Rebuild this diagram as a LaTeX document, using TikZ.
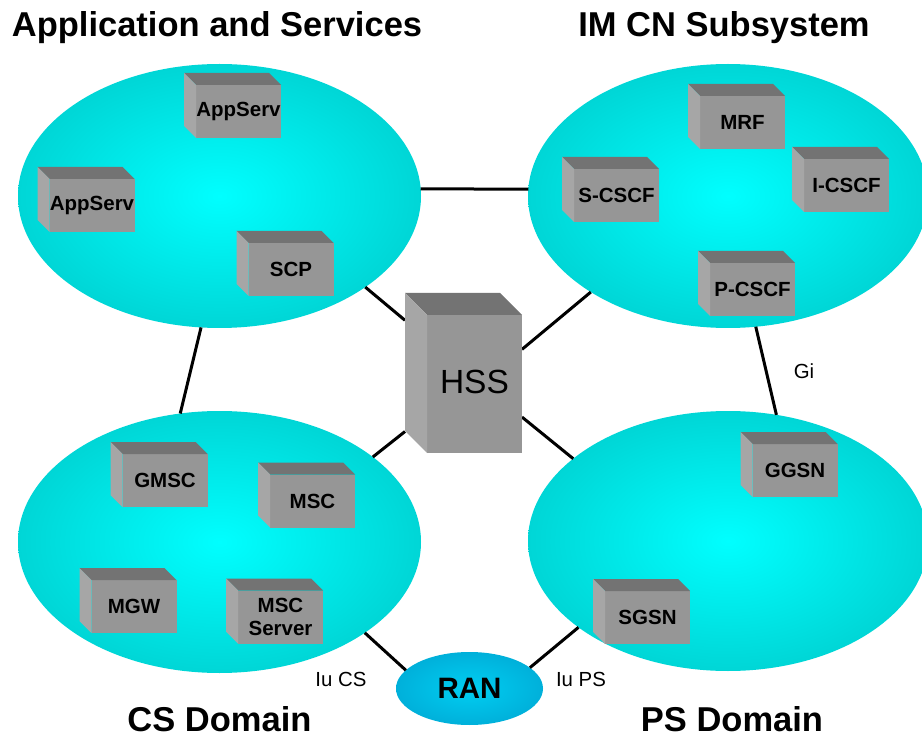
\documentclass[tikz,border=0pt]{standalone}
\usepackage{fontspec}
\setmainfont{Liberation Sans}
\usetikzlibrary{shapes.geometric}
\definecolor{frontc}{RGB}{150,150,150}
\definecolor{topc}{RGB}{115,115,115}
\definecolor{sidec}{RGB}{166,166,166}
\definecolor{cyanin}{RGB}{0,255,255}
\definecolor{cyanout}{RGB}{0,214,214}
\definecolor{ranin}{RGB}{0,206,242}
\definecolor{ranout}{RGB}{0,176,218}
\tikzset{
  dom/.style={ellipse, inner sep=0pt, outer sep=0pt, inner color=cyanin, outer color=cyanout},
  link/.style={line width=3pt, black},
  frontbox/.style={fill=frontc, minimum width=85pt, minimum height=53pt, inner sep=0pt, outer sep=0pt, align=center, font=\fontsize{20.5}{23.5}\selectfont\bfseries},
  topface/.style={fill=topc},
  sideface/.style={fill=sidec},
  title/.style={font=\fontsize{34.5}{40}\selectfont\bfseries, anchor=base, inner sep=0pt},
  iflabel/.style={font=\fontsize{20.4}{24}\selectfont, anchor=base, inner sep=0pt},
}
\newcommand\srvbox[3]{%
  \node[frontbox] (#1) at (#2) {#3};
  \fill[topface] (#1.north west) -- ++(-12,-12) -- ([shift={(-12,-12)}]#1.north east) -- (#1.north east) -- cycle;
  \fill[sideface] (#1.north west) -- ++(-12,-12) -- ([shift={(-12,-12)}]#1.south west) -- (#1.south west) -- cycle;
}
\begin{document}
\begin{tikzpicture}[x=1pt, y=-1pt]
\useasboundingbox (0,0) rectangle (922,738);
% domains
\node[dom, minimum width=403pt, minimum height=264pt] (as) at (219.5,196) {};
\node[dom, minimum width=400pt, minimum height=264pt] (ims) at (728,196) {};
\node[dom, minimum width=403pt, minimum height=262pt] (cs) at (219.5,542) {};
\node[dom, minimum width=400pt, minimum height=260pt] (ps) at (728,541) {};
\node[ellipse, inner sep=0pt, outer sep=0pt, inner color=ranin, outer color=ranout, minimum width=147pt, minimum height=73pt, font=\fontsize{29.5}{34}\selectfont\bfseries] (ran) at (469.5,688.5) {RAN};
% HSS node (bounding box of the cube)
\node[minimum width=117pt, minimum height=160pt, inner sep=0pt, outer sep=0pt] (hss) at (463.5,373) {};
% connectors
\draw[link] (as.2) -- (ims.178);
\draw[link] (as.-32) -- (hss.138);
\draw[link] (ims.-145) -- (hss.22);
\draw[link] (as.-98) -- (cs.107);
\draw[link] (ims.-78) -- (ps.69);
\draw[link] (cs.29) -- (hss.-135);
\draw[link] (ps.152) -- (hss.-37);
\draw[link] (cs.-32) -- (ran.164);
\draw[link] (ps.-150) -- (ran.19);
% HSS cube
\fill[frontc] ([shift={(22,22)}]hss.north west) rectangle (hss.south east);
\fill[topface] (hss.north west) -- ([shift={(-22,0)}]hss.north east) -- ([shift={(0,22)}]hss.north east) -- ([shift={(22,22)}]hss.north west) -- cycle;
\fill[sideface] (hss.north west) -- ([shift={(22,22)}]hss.north west) -- ([shift={(22,0)}]hss.south west) -- ([shift={(0,-22)}]hss.south west) -- cycle;
\node[font=\fontsize{33.5}{40}\selectfont, anchor=base] (hsslabel) at (474.5,393) {HSS};
% boxes
\srvbox{as1}{238.5,111.5}{AppServ}
\srvbox{as2}{92,205.5}{AppServ}
\srvbox{scp}{291,269.5}{SCP}
\srvbox{mrf}{742.5,122.5}{MRF}
\srvbox{icscf}{846.5,185.5}{I-CSCF}
\srvbox{scscf}{616.5,195.5}{S-CSCF}
\srvbox{pcscf}{752.5,289.5}{P-CSCF}
\srvbox{gmsc}{165,480.5}{GMSC}
\srvbox{msc}{312.5,501}{MSC}
\srvbox{mgw}{134,606.5}{MGW}
\srvbox{mscs}{280.5,617}{MSC\\Server}
\srvbox{ggsn}{795,470.5}{GGSN}
\srvbox{sgsn}{647.5,617.5}{SGSN}
% titles
\node[title] (t1) at (217,37) {Application and Services};
\node[title] (t2) at (724,37) {IM CN Subsystem};
\node[title] (t3) at (219.5,731) {CS Domain};
\node[title] (t4) at (732,731) {PS Domain};
% interface labels
\node[iflabel] (iucs) at (341,686) {Iu CS};
\node[iflabel] (iups) at (581,686) {Iu PS};
\node[iflabel] (gi) at (804,378) {Gi};
\end{tikzpicture}
\end{document}
